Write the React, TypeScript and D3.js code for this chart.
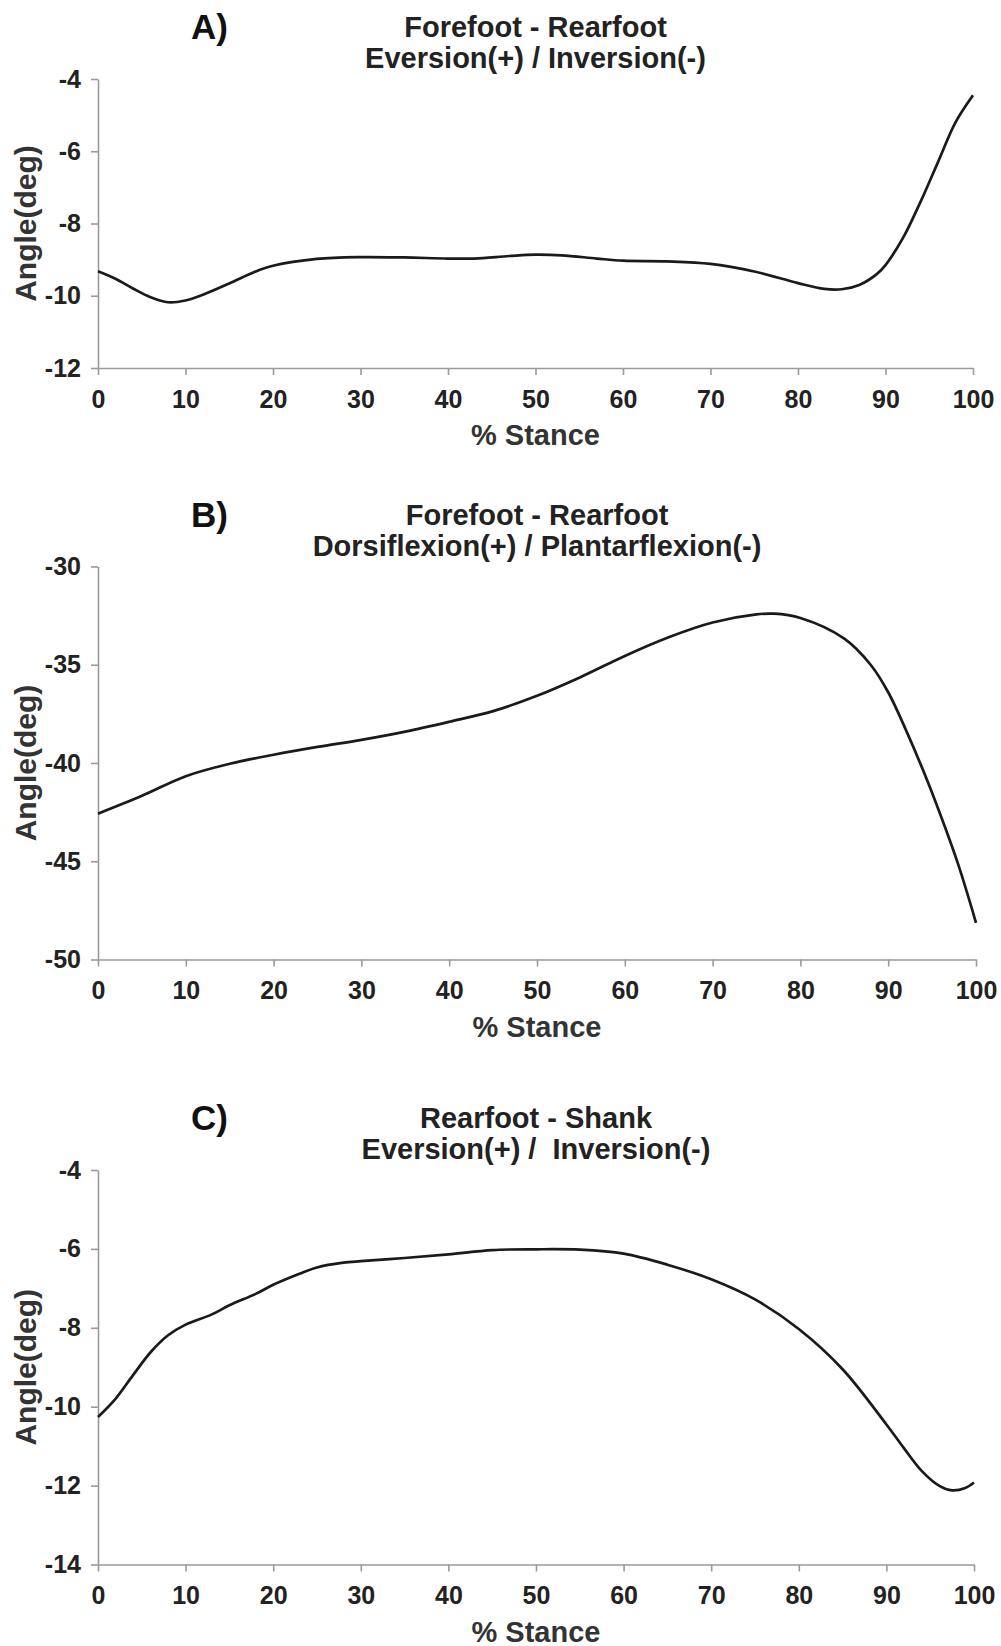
import React, { useEffect, useRef } from "react";
import * as d3 from "d3";

// % stance sample positions and joint angles (deg)
const stanceA = [0, 2, 4, 6, 8, 10, 12, 15, 18, 20, 25, 30, 35, 40, 43, 47, 50, 53, 57, 60, 65, 70, 75, 80, 83, 85, 87, 89, 90, 92, 94, 96, 98, 100];
const angleA = [-9.32, -9.53, -9.8, -10.04, -10.18, -10.13, -9.97, -9.66, -9.33, -9.17, -8.98, -8.93, -8.94, -8.97, -8.97, -8.9, -8.86, -8.88, -8.97, -9.03, -9.05, -9.12, -9.33, -9.65, -9.81, -9.82, -9.7, -9.4, -9.15, -8.4, -7.4, -6.3, -5.2, -4.45];

const stanceB = [0, 5, 10, 15, 20, 25, 30, 35, 40, 45, 50, 55, 60, 65, 70, 75, 77, 80, 85, 88, 90, 92, 94, 96, 98, 100];
const angleB = [-42.58, -41.67, -40.67, -40.04, -39.58, -39.18, -38.82, -38.4, -37.9, -37.36, -36.58, -35.62, -34.55, -33.6, -32.85, -32.44, -32.4, -32.62, -33.67, -35.0, -36.4, -38.3, -40.4, -42.7, -45.2, -48.13];

const stanceC = [0, 2, 4, 6, 8, 10, 13, 15, 18, 20, 23, 25, 28, 30, 35, 40, 45, 50, 55, 60, 65, 70, 75, 80, 85, 90, 92, 94, 96, 97.5, 99, 100];
const angleC = [-10.26, -9.8, -9.2, -8.62, -8.19, -7.92, -7.66, -7.43, -7.14, -6.91, -6.63, -6.47, -6.35, -6.31, -6.23, -6.14, -6.03, -6.01, -6.02, -6.12, -6.4, -6.77, -7.28, -8.03, -9.05, -10.45, -11.05, -11.62, -12.0, -12.12, -12.06, -11.92];

const xTicks = [0, 10, 20, 30, 40, 50, 60, 70, 80, 90, 100];
const yTicksA = [-12, -10, -8, -6, -4];
const yTicksB = [-50, -45, -40, -35, -30];
const yTicksC = [-14, -12, -10, -8, -6, -4];

const letters = ["A)", "B)", "C)"];
const titles1 = ["Forefoot - Rearfoot", "Forefoot - Rearfoot", "Rearfoot - Shank"];
const titles2 = ["Eversion(+) / Inversion(-)", "Dorsiflexion(+) / Plantarflexion(-)", "Eversion(+) /\u00a0 Inversion(-)"];

const FONT = "'Liberation Sans', Arial, sans-serif";

export default function App() {
  const ref = useRef<SVGSVGElement | null>(null);

  useEffect(() => {
    const svg = d3.select(ref.current);
    svg.selectAll("*").remove();

    const panels = [
      { xs: stanceA, ys: angleA, ticks: yTicksA, top: 79, bottom: 368, left: 98, right: 973 },
      { xs: stanceB, ys: angleB, ticks: yTicksB, top: 566.5, bottom: 959.5, left: 98, right: 976 },
      { xs: stanceC, ys: angleC, ticks: yTicksC, top: 1170, bottom: 1564.5, left: 98, right: 974 }
    ];

    panels.forEach((p, i) => {
      const x = d3.scaleLinear().domain([0, 100]).range([p.left, p.right]);
      const y = d3
        .scaleLinear()
        .domain([d3.min(p.ticks) as number, d3.max(p.ticks) as number])
        .range([p.bottom, p.top]);

      const g = svg.append("g");

      // y axis
      const ya = g
        .append("g")
        .attr("transform", "translate(" + p.left + ",0)")
        .call(
          d3
            .axisLeft(y)
            .tickValues(p.ticks)
            .tickFormat((d) => String(d))
            .tickSize(7)
            .tickSizeOuter(0)
            .tickPadding(10)
        );

      // x axis
      const xa = g
        .append("g")
        .attr("transform", "translate(0," + p.bottom + ")")
        .call(
          d3
            .axisBottom(x)
            .tickValues(xTicks)
            .tickFormat((d) => String(d))
            .tickSize(7)
            .tickSizeOuter(0)
            .tickPadding(15)
        );

      [ya, xa].forEach((a) => {
        a.select(".domain").attr("stroke", "#9a9a9a").attr("stroke-width", 1.6);
        a.selectAll(".tick line").attr("stroke", "#9a9a9a").attr("stroke-width", 1.6);
        a.selectAll(".tick text")
          .attr("fill", "#222")
          .style("font-family", FONT)
          .style("font-size", "25px")
          .style("font-weight", "bold");
      });

      // curve
      const line = d3
        .line<number>()
        .x((d, k) => x(p.xs[k]))
        .y((d) => y(d))
        .curve(d3.curveCatmullRom.alpha(0.5));

      g.append("path")
        .datum(p.ys)
        .attr("fill", "none")
        .attr("stroke", "#1a1a1a")
        .attr("stroke-width", 2.7)
        .attr("stroke-linejoin", "round")
        .attr("d", line);

      const cx = (p.left + p.right) / 2;
      const cy = (p.top + p.bottom) / 2;

      // panel letter
      g.append("text")
        .attr("x", 191)
        .attr("y", p.top - 40)
        .attr("fill", "#111")
        .style("font-family", FONT)
        .style("font-size", "35px")
        .style("font-weight", "bold")
        .text(letters[i]);

      // titles
      g.append("text")
        .attr("x", cx)
        .attr("y", p.top - 42)
        .attr("text-anchor", "middle")
        .attr("fill", "#222")
        .style("font-family", FONT)
        .style("font-size", "29px")
        .style("font-weight", "bold")
        .text(titles1[i]);

      g.append("text")
        .attr("x", cx)
        .attr("y", p.top - 11)
        .attr("text-anchor", "middle")
        .attr("fill", "#222")
        .style("font-family", FONT)
        .style("font-size", "29px")
        .style("font-weight", "bold")
        .text(titles2[i]);

      // axis titles
      g.append("text")
        .attr("x", cx)
        .attr("y", p.bottom + 77)
        .attr("text-anchor", "middle")
        .attr("fill", "#333")
        .style("font-family", FONT)
        .style("font-size", "29px")
        .style("font-weight", "bold")
        .text("% Stance");

      g.append("text")
        .attr("text-anchor", "middle")
        .attr("transform", "translate(36," + cy + ") rotate(-90)")
        .attr("fill", "#333")
        .style("font-family", FONT)
        .style("font-size", "30px")
        .style("font-weight", "bold")
        .text("Angle(deg)");
    });
  }, []);

  return (
    <div style={{ position: "absolute", left: 0, top: 0, background: "#fff" }}>
      <svg ref={ref} width={1001} height={1646} style={{ display: "block" }} />
    </div>
  );
}
